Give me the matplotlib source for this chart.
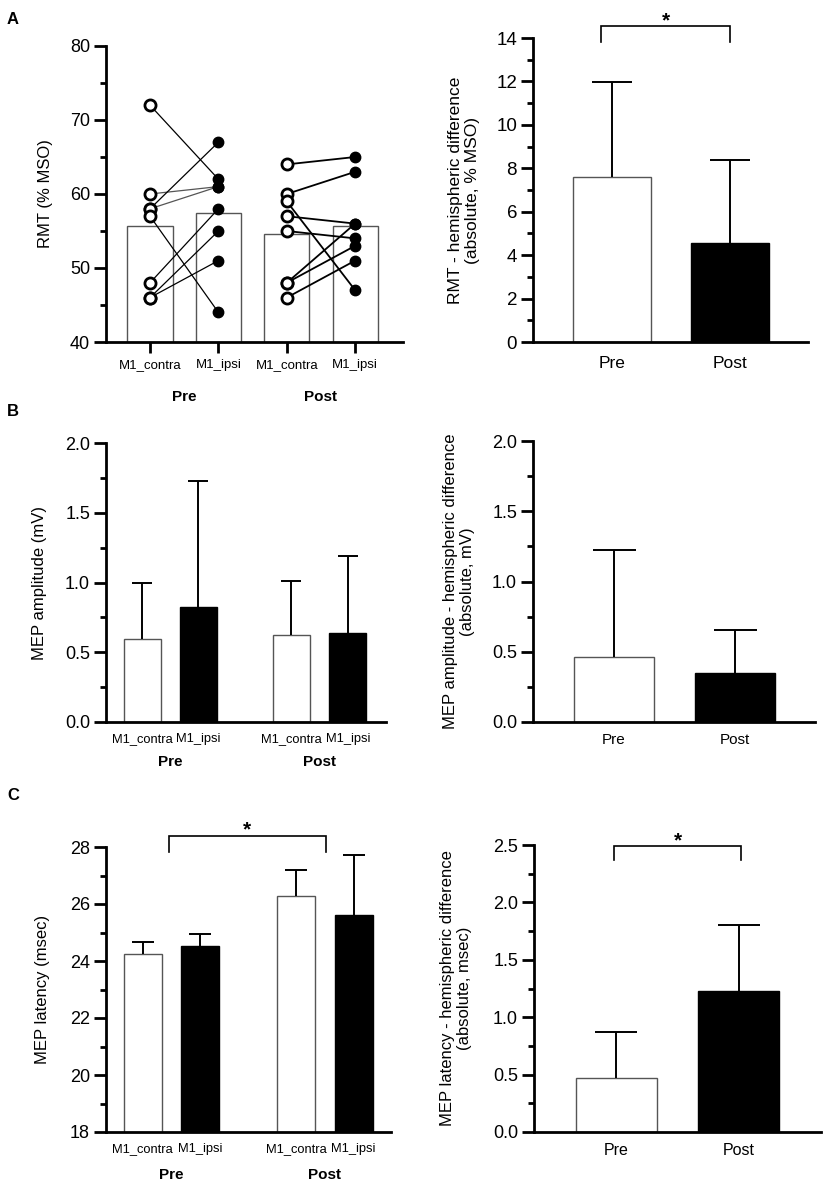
import numpy as np
import matplotlib
matplotlib.use("Agg")
from matplotlib import pyplot as plt
from matplotlib.ticker import MultipleLocator

plt.rcParams['font.family'] = ['Liberation Sans', 'DejaVu Sans']

W, H = 829, 1186

conditions = ["M1_contra", "M1_ipsi", "M1_contra", "M1_ipsi"]
sessions = ["Pre", "Post"]

# A: resting motor threshold per subject (% MSO)
rmt_pre_contra = [72, 60, 58, 58, 57, 48, 46, 46]
rmt_pre_ipsi = [62, 61, 61, 67, 44, 58, 55, 51]
rmt_post_contra = [64, 60, 59, 57, 55, 48, 48, 46]
rmt_post_ipsi = [65, 63, 47, 56, 54, 56, 53, 51]
rmt_pre_gray = [False, True, True, False, False, False, False, False]
rmt_diff_mean = [7.58, 4.55]
rmt_diff_sd = [4.39, 3.85]

# B: MEP amplitude (mV)
amp_mean = [0.596, 0.825, 0.625, 0.636]
amp_sd = [0.403, 0.906, 0.386, 0.554]
amp_diff_mean = [0.464, 0.346]
amp_diff_sd = [0.762, 0.310]

# C: MEP latency (msec)
lat_mean = [24.24, 24.53, 26.27, 25.62]
lat_sd = [0.43, 0.42, 0.91, 2.10]
lat_diff_mean = [0.467, 1.227]
lat_diff_sd = [0.406, 0.577]

fig = plt.figure(figsize=(W / 100, H / 100), dpi=100)


def place(x0, x1, ytop, ybot):
    return fig.add_axes([x0 / W, 1 - ybot / H, (x1 - x0) / W, (ybot - ytop) / H])


def style(ax, ylim, major, minor, xlim, tick_size=13):
    ax.spines[['top', 'right']].set_visible(False)
    for s in ('left', 'bottom'):
        ax.spines[s].set_linewidth(2)
    ax.set_xlim(*xlim)
    ax.set_ylim(*ylim)
    ax.yaxis.set_major_locator(MultipleLocator(major))
    ax.yaxis.set_minor_locator(MultipleLocator(minor))
    ax.tick_params(axis='y', which='major', length=8.5, width=2, labelsize=tick_size, pad=3)
    ax.tick_params(axis='y', which='minor', length=4.5, width=2)
    ax.tick_params(axis='x', length=0, pad=8)


def bars(ax, xpos, means, sds, fills, width=0.66, cap=0.36):
    xpos = np.asarray(xpos, dtype=float)
    edges = ['#555555' if f == 'white' else 'black' for f in fills]
    ax.bar(xpos, means, width=width, color=fills, edgecolor=edges, linewidth=1, zorder=2)
    tops = np.add(means, sds)
    ax.vlines(xpos, means, tops, color='black', lw=1.4, zorder=3)
    ax.hlines(tops, xpos - cap / 2, xpos + cap / 2, color='black', lw=1.4, zorder=3)


def bracket(ax, x0, x1, ytop, yleg):
    ax.plot([x0, x0, x1, x1], [yleg, ytop, ytop, yleg], color='black', lw=1.2,
            clip_on=False, solid_joinstyle='miter')
    ax.text((x0 + x1) / 2, ytop, '*', ha='center', va='baseline', fontsize=15,
            fontweight='bold', clip_on=False)


def group_labels(ax, xs, y, size=11):
    tr = ax.get_xaxis_transform()
    for x, s in zip(xs, sessions):
        ax.text(x, y, s, transform=tr, ha='center', va='center', fontsize=size,
                fontweight='bold')


# ---- A left: individual RMT
ax = place(106, 403, 46, 342)
style(ax, (40, 80), 10, 5, (-0.644, 3.70))
pos = [0, 1, 2, 3]
ax.bar(pos, [np.mean(rmt_pre_contra), np.mean(rmt_pre_ipsi),
             np.mean(rmt_post_contra), np.mean(rmt_post_ipsi)],
       width=0.66, color='white', edgecolor='#555555', linewidth=1, zorder=1)
for c, i, g in zip(rmt_pre_contra, rmt_pre_ipsi, rmt_pre_gray):
    ax.plot([0, 1], [c, i], color='#555555' if g else 'black', lw=0.9, zorder=2)
for c, i in zip(rmt_post_contra, rmt_post_ipsi):
    ax.plot([2, 3], [c, i], color='black', lw=1.3, zorder=2)
ax.plot([0] * len(rmt_pre_contra), rmt_pre_contra, 'o', mfc='white', mec='black',
        ms=8, mew=2, zorder=4, clip_on=False)
ax.plot([2] * len(rmt_post_contra), rmt_post_contra, 'o', mfc='white', mec='black',
        ms=8, mew=2, zorder=4, clip_on=False)
ax.plot([1] * len(rmt_pre_ipsi), rmt_pre_ipsi, 'o', color='black', ms=7.5, zorder=4)
ax.plot([3] * len(rmt_post_ipsi), rmt_post_ipsi, 'o', color='black', ms=7.5, zorder=4)
ax.set_xticks(pos, conditions, fontsize=9.5)
ax.tick_params(axis='x', length=8, width=2, pad=4)
ax.set_ylabel('RMT (% MSO)', fontsize=12)
ax.yaxis.set_label_coords(-0.178, 0.5)
group_labels(ax, [0.5, 2.5], -0.186)

# ---- A right: RMT hemispheric difference
ax = place(533, 808, 38, 342)
style(ax, (0, 14), 2, 1, (-0.67, 1.66), tick_size=13.5)
bars(ax, [0, 1], rmt_diff_mean, rmt_diff_sd, ['white', 'black'], cap=0.34)
ax.set_xticks([0, 1], sessions, fontsize=12.5)
ax.tick_params(axis='x', pad=10)
ax.set_ylabel('RMT - hemispheric difference\n(absolute, % MSO)', fontsize=12.5)
ax.yaxis.set_label_coords(-0.193, 0.5)
bracket(ax, -0.093, 1.0, 14.55, 13.82)

# ---- B left: MEP amplitude
ax = place(106, 386, 443, 722)
pos_b = [0, 1, 2.66, 3.67]
style(ax, (0, 2.0), 0.5, 0.25, (-0.65, 4.35))
ax.yaxis.set_major_formatter('{x:.1f}')
bars(ax, pos_b, amp_mean, amp_sd, ['white', 'black', 'white', 'black'])
ax.set_xticks(pos_b, conditions, fontsize=9.3)
ax.set_ylabel('MEP amplitude (mV)', fontsize=12)
ax.yaxis.set_label_coords(-0.211, 0.5)
group_labels(ax, [0.5, 3.165], -0.143)

# ---- B right: MEP amplitude hemispheric difference
ax = place(533, 815, 441, 722)
style(ax, (0, 2.0), 0.5, 0.25, (-0.67, 1.66))
ax.yaxis.set_major_formatter('{x:.1f}')
bars(ax, [0, 1], amp_diff_mean, amp_diff_sd, ['white', 'black'], cap=0.355)
ax.set_xticks([0, 1], sessions, fontsize=11)
ax.set_ylabel('MEP amplitude - hemispheric difference\n(absolute, mV)', fontsize=12)
ax.yaxis.set_label_coords(-0.206, 0.5)

# ---- C left: MEP latency
ax = place(106, 391, 847, 1132)
pos_c = [0, 1, 2.66, 3.66]
style(ax, (18, 28), 2, 1, (-0.64, 4.31))
bars(ax, pos_c, lat_mean, lat_sd, ['white', 'black', 'white', 'black'], cap=0.38)
ax.set_xticks(pos_c, conditions, fontsize=9.3)
ax.set_ylabel('MEP latency (msec)', fontsize=12)
ax.yaxis.set_label_coords(-0.196, 0.5)
group_labels(ax, [0.5, 3.16], -0.151)
bracket(ax, 0.45, 3.18, 28.39, 27.82)

# ---- C right: MEP latency hemispheric difference
ax = place(534, 821, 845, 1132)
style(ax, (0, 2.5), 0.5, 0.25, (-0.67, 1.67))
ax.yaxis.set_major_formatter('{x:.1f}')
bars(ax, [0, 1], lat_diff_mean, lat_diff_sd, ['white', 'black'], cap=0.34)
ax.set_xticks([0, 1], sessions, fontsize=11.5)
ax.set_ylabel('MEP latency - hemispheric difference\n(absolute, msec)', fontsize=12)
ax.yaxis.set_label_coords(-0.216, 0.5)
bracket(ax, -0.02, 1.02, 2.49, 2.37)

for letter, y in zip(['A', 'B', 'C'], [20, 412, 795]):
    fig.text(7 / W, 1 - y / H, letter, fontsize=12, fontweight='bold',
             ha='left', va='center')

fig.savefig('out.png', dpi=100)
